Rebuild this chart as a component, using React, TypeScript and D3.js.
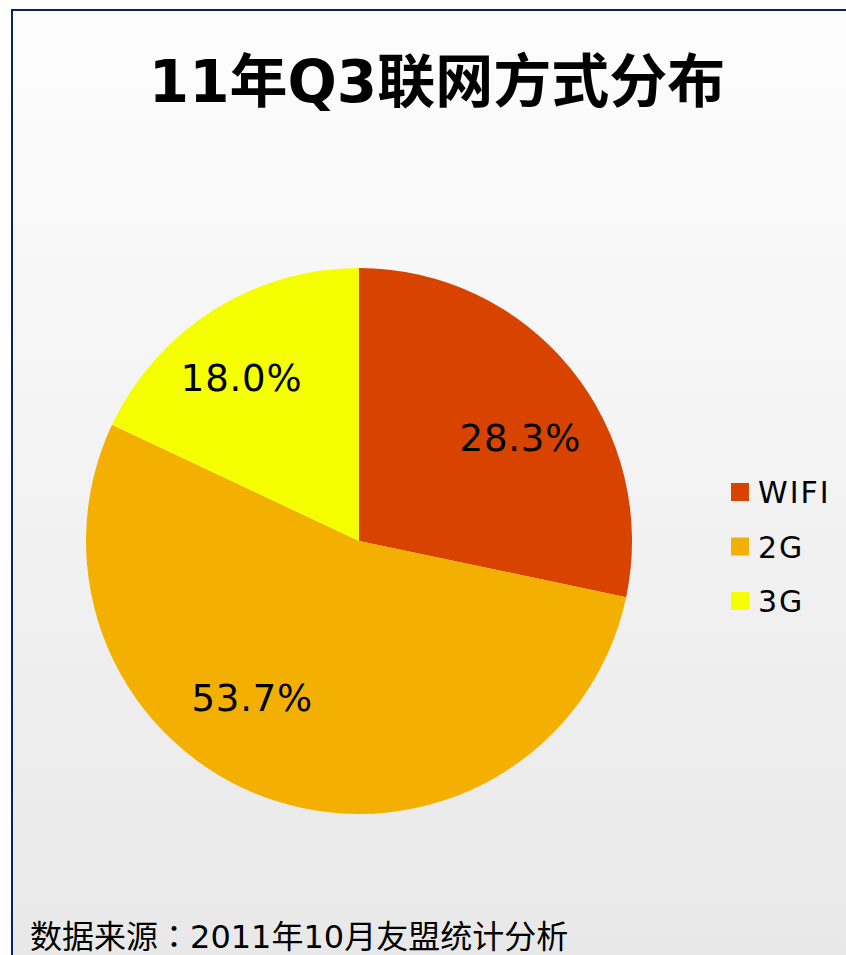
import React, { useEffect, useRef } from "react";
import * as d3 from "d3";

const categories = ["WIFI", "2G", "3G"];
const shares = [28.3, 53.7, 18.0];
const colors = ["#d84400", "#f4b000", "#f5ff00"];
const chartTitle = "11年Q3联网方式分布";
const sourceParts = ["数据来源", "：", "2011年10月友盟统计分析"];

// label nudges (excel "best fit" placement doesn't sit on the centroid)
const labelNudge = [
  [13, 17],
  [-46, -24],
  [-15, -2],
];

const W = 846;
const H = 955;

export default function App() {
  const ref = useRef<SVGSVGElement>(null);

  useEffect(() => {
    const svg = d3.select(ref.current);
    svg.selectAll("*").remove();

    const defs = svg.append("defs");
    const grad = defs
      .append("linearGradient")
      .attr("id", "bg")
      .attr("x1", 0)
      .attr("y1", 0)
      .attr("x2", 0)
      .attr("y2", 1);
    grad.append("stop").attr("offset", "0%").attr("stop-color", "#fdfdfd");
    grad.append("stop").attr("offset", "100%").attr("stop-color", "#e8e8e8");

    svg.append("rect").attr("width", W).attr("height", H).attr("fill", "#ffffff");
    svg
      .append("rect")
      .attr("x", 12)
      .attr("y", 10)
      .attr("width", W)
      .attr("height", H)
      .attr("fill", "url(#bg)")
      .attr("stroke", "#0b2466")
      .attr("stroke-width", 2);

    // title
    svg
      .append("text")
      .attr("x", 437)
      .attr("y", 102)
      .attr("text-anchor", "middle")
      .attr("font-family", "'DejaVu Sans', 'Noto Sans CJK SC', sans-serif")
      .attr("font-weight", "bold")
      .attr("font-size", 58)
      .attr("fill", "#000")
      .text(chartTitle);

    const cx = 359;
    const cy = 541;
    const r = 273;

    const pie = d3
      .pie<number>()
      .sort(null)
      .value((d) => d);
    const arcs = pie(shares);
    const arc = d3.arc<d3.PieArcDatum<number>>().innerRadius(0).outerRadius(r);
    const labelArc = d3
      .arc<d3.PieArcDatum<number>>()
      .innerRadius(r * 0.7)
      .outerRadius(r * 0.7);

    const g = svg.append("g").attr("transform", `translate(${cx},${cy})`);
    g.selectAll("path.slice")
      .data(arcs)
      .enter()
      .append("path")
      .attr("class", "slice")
      .attr("d", arc)
      .attr("fill", (d, i) => colors[i]);

    g.selectAll("text.lbl")
      .data(arcs)
      .enter()
      .append("text")
      .attr("class", "lbl")
      .attr("x", (d, i) => labelArc.centroid(d)[0] + labelNudge[i][0])
      .attr("y", (d, i) => labelArc.centroid(d)[1] + labelNudge[i][1] + 13)
      .attr("text-anchor", "middle")
      .attr("font-family", "'DejaVu Sans', sans-serif")
      .attr("font-size", 37)
      .attr("letter-spacing", 0.8)
      .attr("fill", "#000")
      .text((d) => d.data.toFixed(1) + "%");

    // legend
    const legend = svg
      .selectAll("g.leg")
      .data(categories)
      .enter()
      .append("g")
      .attr("class", "leg")
      .attr("transform", (d, i) => `translate(731, ${483 + i * 54.5})`);
    legend
      .append("rect")
      .attr("width", 18)
      .attr("height", 18)
      .attr("fill", (d, i) => colors[i]);
    legend
      .append("text")
      .attr("x", 27)
      .attr("y", 20)
      .attr("font-family", "'DejaVu Sans', sans-serif")
      .attr("font-size", 30)
      .attr("letter-spacing", 2)
      .attr("fill", "#000")
      .text((d) => d);

    // source
    const src = svg
      .append("text")
      .attr("x", 30)
      .attr("y", 948)
      .attr("font-size", 32)
      .attr("fill", "#000");
    const srcFonts = [
      "'Noto Sans CJK SC', sans-serif",
      "'Noto Sans CJK TC', sans-serif",
      "'DejaVu Sans', 'Noto Sans CJK SC', sans-serif",
    ];
    sourceParts.forEach((t, i) => {
      src.append("tspan").attr("font-family", srcFonts[i]).text(t);
    });
  }, []);

  return (
    <svg
      ref={ref}
      width={W}
      height={H}
      style={{ position: "absolute", left: 0, top: 0 }}
    />
  );
}
